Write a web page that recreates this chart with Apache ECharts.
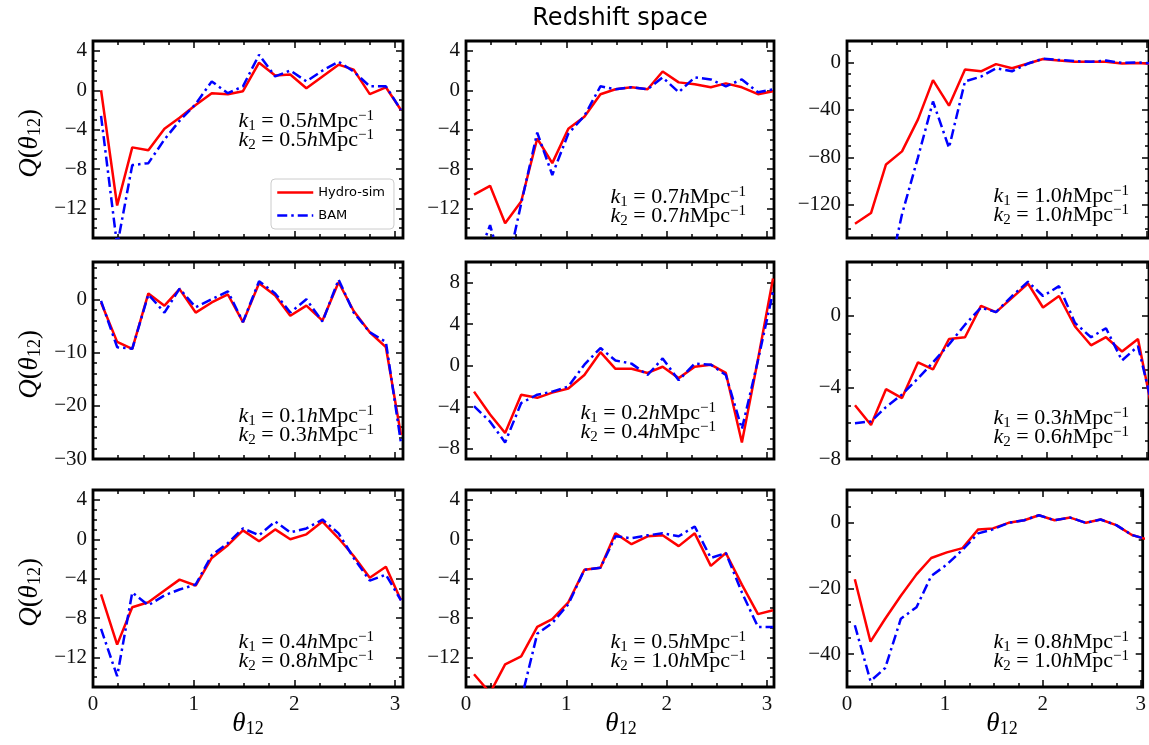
<!DOCTYPE html>
<html>
<head>
<meta charset="utf-8">
<title>Redshift space</title>
<script src="https://cdn.jsdelivr.net/npm/echarts@6/dist/echarts.min.js"></script>
<style>
html, body { margin: 0; padding: 0; background: #fff; }
#chart { width: 1149px; height: 745px; }
</style>
</head>
<body>
<div id="chart"></div>
<script>
// theta_12 bin centres (shared by all panels)
var theta = [0.08, 0.24, 0.39, 0.55, 0.71, 0.86, 1.02, 1.18, 1.34, 1.49, 1.65, 1.81, 1.96, 2.12, 2.28, 2.44, 2.59, 2.75, 2.91, 3.06];

// Q(theta_12): Hydro-sim (red) and BAM (blue)
var hydro_05_05 = [0, -11.7, -5.8, -6.1, -3.9, -2.8, -1.5, -0.3, -0.4, -0.1, 2.8, 1.5, 1.6, 0.2, 1.4, 2.6, 2.1, -0.4, 0.3, -2.0];
var bam_05_05   = [-2.6, -15.8, -7.6, -7.4, -5.0, -3.1, -1.4, 0.9, -0.3, 0.4, 3.6, 1.4, 2.0, 0.9, 2.0, 2.9, 1.9, 0.4, 0.4, -2.0];
var hydro_07_07 = [-10.6, -9.7, -13.5, -11.3, -4.9, -7.4, -3.9, -2.7, -0.4, 0.1, 0.3, 0.1, 1.9, 0.8, 0.6, 0.3, 0.7, 0.3, -0.4, -0.1];
var bam_07_07   = [-18, -13.7, -19, -11.5, -4.3, -8.6, -4.4, -2.6, 0.4, 0.1, 0.3, 0.1, 1.3, -0.2, 1.3, 1.1, 0.4, 1.1, -0.2, 0.1];
var hydro_10_10 = [-136, -127, -86, -75, -48, -15, -36.5, -6, -7.5, -1.5, -5, -1, 2.8, 1.5, 0.5, 0.5, 0.5, -1, -0.5, -1.5];
var bam_10_10   = [-230, -215, -190, -128, -80, -33, -72, -16, -12, -5, -7.5, -1, 3, 2, 1, 0.5, 1.5, -0.5, 0, -1];
var hydro_01_03 = [-0.6, -8.0, -9.3, 1.1, -1.2, 1.9, -2.5, -0.6, 0.9, -4.3, 3.0, 0.7, -3.1, -1.2, -4.0, 3.2, -2.2, -6.2, -9.0, -25.5];
var bam_01_03   = [-0.3, -9.0, -9.3, 0.9, -2.5, 2.0, -1.5, 0, 1.5, -4.3, 3.4, 1.1, -2.5, 0, -4.2, 3.7, -2.5, -6.2, -8.0, -27.0];
var hydro_02_04 = [-2.5, -4.7, -6.5, -2.8, -3.1, -2.6, -2.2, -0.9, 1.3, -0.3, -0.3, -0.7, -0.1, -1.2, -0.1, 0.1, -0.7, -7.4, 0.6, 8.4];
var bam_02_04   = [-3.9, -5.4, -7.4, -3.6, -2.8, -2.5, -2.0, 0.1, 1.7, 0.5, 0.2, -0.9, 0.7, -1.4, 0.2, 0.1, -0.9, -6.1, 0.5, 7.1];
var hydro_03_06 = [-5.0, -6.1, -4.1, -4.6, -2.6, -3.0, -1.3, -1.2, 0.55, 0.2, 1.0, 1.8, 0.46, 1.1, -0.6, -1.65, -1.2, -2.0, -1.3, -5.5];
var bam_03_06   = [-6.0, -5.9, -5.1, -4.4, -3.5, -2.6, -1.6, -0.5, 0.46, 0.2, 1.1, 1.9, 1.1, 1.65, -0.4, -1.2, -0.7, -2.5, -1.7, -5.2];
var hydro_04_08 = [-5.6, -10.7, -6.9, -6.4, -5.2, -4.1, -4.7, -1.9, -0.6, 0.9, -0.2, 1.0, 0, 0.5, 1.8, 0.1, -1.7, -3.9, -2.8, -6.2];
var bam_04_08   = [-9.1, -13.9, -5.4, -6.7, -5.7, -5.1, -4.6, -1.6, -0.4, 1.1, 0.4, 1.8, 0.7, 1.1, 2.0, 0.6, -1.9, -4.2, -3.6, -6.2];
var hydro_05_10 = [-13.7, -15.6, -12.7, -11.9, -8.9, -8.1, -6.4, -3.1, -2.9, 0.6, -0.5, 0.3, 0.4, -0.7, 0.6, -2.7, -1.4, -4.6, -7.6, -7.2];
var bam_05_10   = [-20, -22, -20, -16.3, -9.6, -8.5, -6.6, -3.1, -2.9, 0.3, 0.1, 0.4, 0.6, 0.3, 1.3, -1.9, -1.4, -5.4, -8.9, -8.9];
var hydro_08_10 = [-17.2, -36.2, -29.2, -22.2, -15.7, -10.7, -9.0, -7.7, -2.0, -1.7, 0, 0.8, 2.3, 0.8, 1.6, 0, 1.0, -0.7, -3.7, -5.0];
var bam_08_10   = [-31.2, -48.2, -44.2, -29.2, -25.7, -16.2, -12.7, -8.2, -3.2, -2.0, 0, 0.8, 2.3, 0.8, 1.6, 0, 1.0, -0.7, -3.7, -5.0];

// tick labels
var xTicks = [0, 1, 2, 3];
var yTicks4 = [-12, -8, -4, 0, 4];
var yTicks40 = [-120, -80, -40, 0];
var yTicks10 = [-30, -20, -10, 0];
var yTicks8 = [-8, -4, 0, 4, 8];
var yTicksSmall = [-8, -4, 0];
var yTicks20 = [-40, -20, 0];

var panels = [
  { k1: '0.5', k2: '0.5', hydro: hydro_05_05, bam: bam_05_05, ymin: -15, ymax: 5, yTicks: yTicks4, minor: 1, tx: 374, ty: 131 },
  { k1: '0.7', k2: '0.7', hydro: hydro_07_07, bam: bam_07_07, ymin: -15, ymax: 5, yTicks: yTicks4, minor: 1, tx: 746, ty: 207 },
  { k1: '1.0', k2: '1.0', hydro: hydro_10_10, bam: bam_10_10, ymin: -148, ymax: 18, yTicks: yTicks40, minor: 10, tx: 1129, ty: 206 },
  { k1: '0.1', k2: '0.3', hydro: hydro_01_03, bam: bam_01_03, ymin: -30, ymax: 7, yTicks: yTicks10, minor: 2, tx: 374, ty: 426 },
  { k1: '0.2', k2: '0.4', hydro: hydro_02_04, bam: bam_02_04, ymin: -9, ymax: 10, yTicks: yTicks8, minor: 1, tx: 716, ty: 423 },
  { k1: '0.3', k2: '0.6', hydro: hydro_03_06, bam: bam_03_06, ymin: -8, ymax: 3, yTicks: yTicksSmall, minor: 1, tx: 1129, ty: 428 },
  { k1: '0.4', k2: '0.8', hydro: hydro_04_08, bam: bam_04_08, ymin: -15, ymax: 5, yTicks: yTicks4, minor: 1, tx: 374, ty: 652 },
  { k1: '0.5', k2: '1.0', hydro: hydro_05_10, bam: bam_05_10, ymin: -15, ymax: 5, yTicks: yTicks4, minor: 1, tx: 746, ty: 652 },
  { k1: '0.8', k2: '1.0', hydro: hydro_08_10, bam: bam_08_10, ymin: -50, ymax: 10, yTicks: yTicks20, minor: 5, tx: 1129, ty: 652 }
];

var colLeft = [93, 466, 847];
var colWidth = [310, 308, 302];
var xMax = [3.08, 3.07, 3.02];
var rowTop = [41, 262, 490];
var rowHeight = 197;

var serif = '"Liberation Serif", "DejaVu Serif", serif';
var sans = '"DejaVu Sans", sans-serif';

function minorTicks (min, max, step, majors) {
  var out = [];
  var start = Math.ceil(min / step - 1e-9) * step;
  for (var v = start; v <= max + 1e-9; v += step) {
    var r = Math.round(v * 1000) / 1000;
    if (majors.indexOf(r) < 0) out.push(r);
  }
  return out;
}

function fmt (v) {
  return String(v).replace('-', '\u2212');
}

function pairs (ys) {
  return theta.map(function (x, j) { return [x, ys[j]]; });
}

var tickStyle = { color: '#000', width: 1.5 };
var labelFont = { fontFamily: serif, fontSize: 21, color: '#111' };

var grids = [], xAxes = [], yAxes = [], series = [];

panels.forEach(function (p, i) {
  var row = Math.floor(i / 3), col = i % 3;
  grids.push({
    left: colLeft[col], top: rowTop[row], width: colWidth[col], height: rowHeight,
    show: true, borderColor: '#000', borderWidth: 2.8, backgroundColor: 'transparent'
  });

  var xMinor = minorTicks(0, xMax[col], 0.25, xTicks);
  var yMinor = minorTicks(p.ymin, p.ymax, p.minor, p.yTicks);

  ['bottom', 'top'].forEach(function (pos) {
    [[xTicks, 7], [xMinor, 4]].forEach(function (t, m) {
      var withLabels = pos === 'bottom' && m === 0 && row === 2;
      xAxes.push({
        type: 'value', gridIndex: i, position: pos, min: 0, max: xMax[col],
        axisLine: { show: false, onZero: false },
        axisTick: { show: true, inside: true, length: t[1], customValues: t[0], lineStyle: tickStyle },
        axisLabel: withLabels
          ? Object.assign({ show: true, margin: 7, customValues: xTicks, formatter: fmt }, labelFont)
          : { show: false },
        splitLine: { show: false }
      });
    });
  });

  ['left', 'right'].forEach(function (pos) {
    [[p.yTicks, 7], [yMinor, 4]].forEach(function (t, m) {
      var withLabels = pos === 'left' && m === 0;
      yAxes.push({
        type: 'value', gridIndex: i, position: pos, min: p.ymin, max: p.ymax,
        axisLine: { show: false, onZero: false },
        axisTick: { show: true, inside: true, length: t[1], customValues: t[0], lineStyle: tickStyle },
        axisLabel: withLabels
          ? Object.assign({ show: true, margin: 6, customValues: p.yTicks, formatter: fmt }, labelFont)
          : { show: false },
        splitLine: { show: false }
      });
    });
  });

  series.push({
    name: 'Hydro-sim', type: 'line', xAxisIndex: 4 * i, yAxisIndex: 4 * i,
    data: pairs(p.hydro), symbol: 'none', clip: true,
    lineStyle: { color: '#ff0000', width: 2.5 }, itemStyle: { color: '#ff0000' }
  });
  series.push({
    name: 'BAM', type: 'line', xAxisIndex: 4 * i, yAxisIndex: 4 * i,
    data: pairs(p.bam), symbol: 'none', clip: true,
    lineStyle: { color: '#0000ff', width: 2.5, type: [10, 4, 2.5, 4] }, itemStyle: { color: '#0000ff' }
  });
});

var annRich = {
  i: { fontFamily: serif, fontStyle: 'italic', fontSize: 22, lineHeight: 19, color: '#111' },
  n: { fontFamily: serif, fontSize: 22, lineHeight: 19, color: '#111' },
  s: { fontFamily: serif, fontSize: 15, lineHeight: 19, padding: [9, 0, 0, 0], color: '#111' },
  p: { fontFamily: serif, fontSize: 15, lineHeight: 19, padding: [0, 0, 11, 0], color: '#111' }
};

var graphics = [{
  type: 'text', x: 620, y: 19,
  style: { text: 'Redshift space', font: '24px ' + sans, fill: '#000', align: 'center', verticalAlign: 'middle', textAlign: 'center', textVerticalAlign: 'middle' }
}];

panels.forEach(function (p) {
  graphics.push({
    type: 'text', x: p.tx, y: p.ty,
    style: {
      text: '{i|k}{s|1}{n| = ' + p.k1 + '}{i|h}{n|Mpc}{p|\u22121}\n{i|k}{s|2}{n| = ' + p.k2 + '}{i|h}{n|Mpc}{p|\u22121}',
      rich: annRich, align: 'right', verticalAlign: 'middle', textAlign: 'right', textVerticalAlign: 'middle'
    }
  });
});

var titleRich = {
  i: { fontFamily: serif, fontStyle: 'italic', fontSize: 27, lineHeight: 30, color: '#111' },
  n: { fontFamily: serif, fontSize: 27, lineHeight: 30, color: '#111' },
  s: { fontFamily: serif, fontSize: 18, lineHeight: 30, padding: [10, 0, 0, 0], color: '#111' }
};

rowTop.forEach(function (t) {
  graphics.push({
    type: 'text', x: 30, y: t + rowHeight / 2 + 4, rotation: Math.PI / 2,
    style: { text: '{i|Q}{n|(}{i|\u03b8}{s|12}{n|)}', rich: titleRich, align: 'center', verticalAlign: 'middle', textAlign: 'center', textVerticalAlign: 'middle' }
  });
});

colLeft.forEach(function (l) {
  graphics.push({
    type: 'text', x: l + 155, y: 724,
    style: { text: '{i|\u03b8}{s|12}', rich: titleRich, align: 'center', verticalAlign: 'middle', textAlign: 'center', textVerticalAlign: 'middle' }
  });
});

var myChart = echarts.init(document.getElementById('chart'));
myChart.setOption({
  animation: false,
  backgroundColor: '#fff',
  grid: grids,
  xAxis: xAxes,
  yAxis: yAxes,
  legend: {
    data: ['Hydro-sim', 'BAM'],
    left: 271, top: 179, orient: 'vertical',
    itemWidth: 36, itemHeight: 14, itemGap: 10,
    padding: [7, 9, 7, 5],
    borderColor: '#cccccc', borderWidth: 1, borderRadius: 4,
    backgroundColor: 'rgba(255,255,255,0.8)',
    itemStyle: { opacity: 0 },
    lineStyle: { width: 2.5 },
    textStyle: { fontFamily: sans, fontSize: 13, color: '#000' }
  },
  graphic: graphics,
  series: series
});
</script>
</body>
</html>
